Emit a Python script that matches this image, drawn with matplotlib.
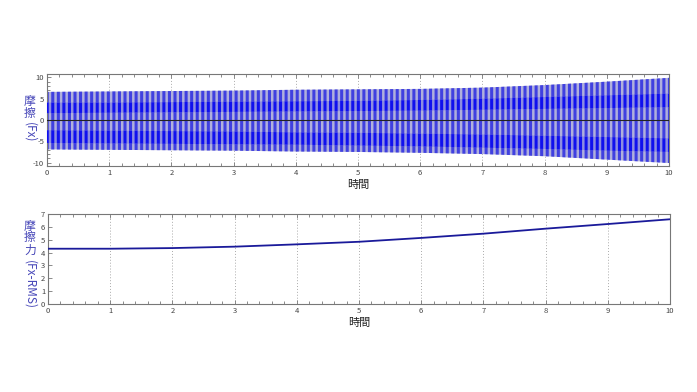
import matplotlib
matplotlib.use("Agg")
import matplotlib.pyplot as plt
from matplotlib.ticker import MultipleLocator

plt.rcParams['font.family'] = ['Noto Sans CJK JP', 'DejaVu Sans']
plt.rcParams['hatch.linewidth'] = 2.2
plt.rcParams['axes.unicode_minus'] = False

# ---- data ----
time_pts = [0, 1, 2, 3, 4, 5, 6, 7, 8, 9, 10]
fx_upper = [6.6, 6.7, 6.8, 6.9, 7.1, 7.2, 7.3, 7.6, 8.2, 9.0, 9.9]
fx_lower = [-6.9, -7.0, -7.1, -7.2, -7.4, -7.5, -7.7, -8.0, -8.5, -9.3, -10.1]
fx_dark_hi_top = [4.1, 4.1, 4.2, 4.3, 4.4, 4.5, 4.7, 5.0, 5.4, 5.8, 6.2]
fx_dark_hi_bot = [1.6, 1.7, 1.8, 1.9, 2.0, 2.1, 2.2, 2.4, 2.6, 2.8, 3.0]
fx_dark_lo_top = [-2.4, -2.5, -2.6, -2.7, -2.9, -3.0, -3.2, -3.4, -3.7, -4.0, -4.3]
fx_dark_lo_bot = [-5.4, -5.5, -5.6, -5.7, -5.8, -6.0, -6.2, -6.5, -6.8, -7.2, -7.5]
rms_vals = [4.30, 4.30, 4.35, 4.46, 4.64, 4.84, 5.14, 5.47, 5.86, 6.22, 6.59]
x_ticks = [0, 1, 2, 3, 4, 5, 6, 7, 8, 9, 10]

blue_lbl = '#4646b8'
spine_c = '#777777'

fig = plt.figure(figsize=(6.97, 3.92), dpi=100)
ax1 = fig.add_axes([47/697, 1-166/392, 622/697, 92/392])
ax2 = fig.add_axes([48/697, 1-304/392, 622/697, 90/392])

# top: oscillating friction signal (envelope + stripe pattern)
ax1.fill_between(time_pts, fx_lower, fx_upper, facecolor='#b0b0dc',
                 edgecolor='#4040e0', hatch='|||', linewidth=0, zorder=2)
ax1.fill_between(time_pts, fx_dark_hi_bot, fx_dark_hi_top, facecolor='#8c8ce0',
                 edgecolor='#1010ee', hatch='|||', linewidth=0, zorder=3)
ax1.fill_between(time_pts, fx_dark_lo_bot, fx_dark_lo_top, facecolor='#8c8ce0',
                 edgecolor='#1010ee', hatch='|||', linewidth=0, zorder=3)
ax1.axhline(0, color='#222222', lw=0.8, zorder=4)
ax1.set_xlim(0, 10)
ax1.set_ylim(-10.8, 10.8)
ax1.set_yticks([-10, -5, 0, 5, 10])
ax1.yaxis.set_minor_locator(MultipleLocator(1))

# bottom: RMS
ax2.plot(time_pts, rms_vals, color='#1a1a9a', lw=1.3, zorder=3)
ax2.set_xlim(0, 10)
ax2.set_ylim(0, 7)
ax2.yaxis.set_major_locator(MultipleLocator(1))

for ax in (ax1, ax2):
    ax.set_xticks(x_ticks)
    ax.xaxis.set_minor_locator(MultipleLocator(0.2))
    ax.grid(axis='x', which='major', linestyle=(0, (1, 2)), color='#aaaaaa', lw=0.7, zorder=1)
    ax.tick_params(which='both', direction='in', top=True, right=False,
                   labelsize=5.5, labelcolor='#444444', color=spine_c, pad=2)
    ax.tick_params(which='major', length=3, width=0.6)
    ax.tick_params(which='minor', length=2, width=0.6)
    for s in ax.spines.values():
        s.set_color(spine_c)
        s.set_linewidth(0.8)
    ax.set_xlabel('時間', fontsize=8, color='#222222', labelpad=2)

# vertical CJK-style y labels: upright characters, rotated latin part
def vlabel(x, chars, y0, step, rest, yr):
    for i, ch in enumerate(chars):
        fig.text(x, 1-(y0+i*step)/392, ch, fontsize=8.5, color=blue_lbl,
                 ha='center', va='center')
    fig.text(x, 1-yr/392, rest, fontsize=8.5, color=blue_lbl, rotation=-90,
             ha='center', va='center')

vlabel(30/697, '摩擦', 101, 12, '(Fx)', 132)
vlabel(30/697, '摩擦力', 226, 12, '(Fx-RMS)', 285)

fig.savefig('out.png', dpi=100, facecolor='white')
